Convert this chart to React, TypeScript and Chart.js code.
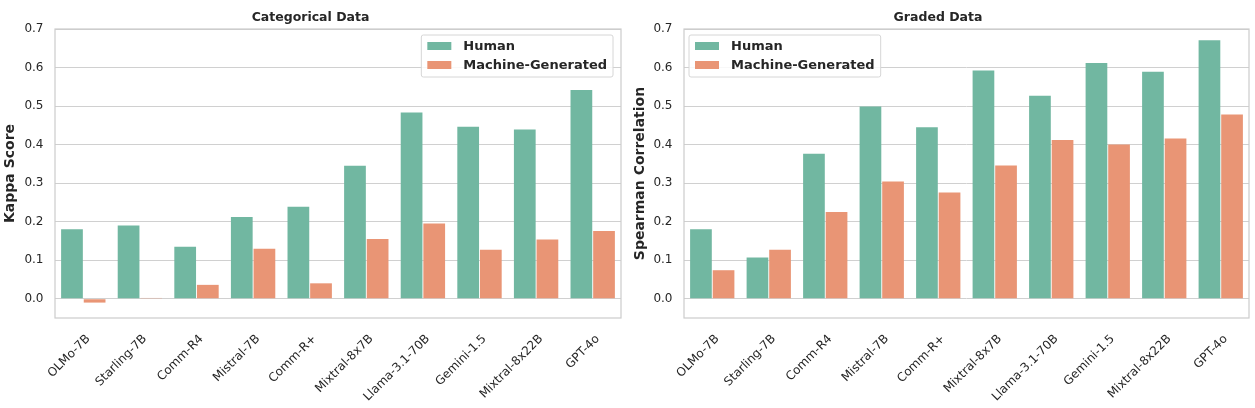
import React, { useEffect, useRef } from "react";
import { Chart, registerables } from "chart.js";

Chart.register(...registerables);

const categories = [
  "OLMo-7B",
  "Starling-7B",
  "Comm-R4",
  "Mistral-7B",
  "Comm-R+",
  "Mixtral-8x7B",
  "Llama-3.1-70B",
  "Gemini-1.5",
  "Mixtral-8x22B",
  "GPT-4o",
];
const seriesNames = ["Human", "Machine-Generated"];
const categoricalHuman = [0.18, 0.19, 0.135, 0.212, 0.239, 0.345, 0.483, 0.446, 0.439, 0.542];
const categoricalMachine = [-0.01, 0.002, 0.036, 0.13, 0.04, 0.155, 0.195, 0.127, 0.154, 0.176];
const gradedHuman = [0.18, 0.107, 0.376, 0.499, 0.445, 0.592, 0.527, 0.612, 0.589, 0.671];
const gradedMachine = [0.074, 0.127, 0.225, 0.304, 0.276, 0.346, 0.412, 0.4, 0.416, 0.478];
const yTicks = [0, 0.1, 0.2, 0.3, 0.4, 0.5, 0.6, 0.7];

const GREEN = "#71b7a1";
const ORANGE = "#e99575";
const TEXT = "#262626";
const GRID = "#d0d0d0";
const FONT = "'DejaVu Sans', sans-serif";

const framePlugin = {
  id: "frameBox",
  afterDatasetsDraw(chart: any) {
    const { ctx, chartArea: a } = chart;
    ctx.save();
    ctx.strokeStyle = "#cccccc";
    ctx.lineWidth = 1.2;
    ctx.strokeRect(a.left, a.top, a.right - a.left, a.bottom - a.top);
    ctx.restore();
  },
};

const legendPlugin = {
  id: "boxLegend",
  afterDraw(chart: any, _args: any, opts: any) {
    const { ctx, chartArea: a } = chart;
    const ds = chart.data.datasets;
    ctx.save();
    ctx.font = `bold 13px ${FONT}`;
    let tw = 0;
    ds.forEach((d: any) => {
      tw = Math.max(tw, ctx.measureText(d.label).width);
    });
    const w = 6 + 24 + 12 + tw + 6;
    const h = 42;
    const top = a.top + 6;
    const left = opts.side === "right" ? a.right - 8 - w : a.left + 5;
    ctx.beginPath();
    if (ctx.roundRect) ctx.roundRect(left, top, w, h, 2);
    else ctx.rect(left, top, w, h);
    ctx.fillStyle = "rgba(255,255,255,0.85)";
    ctx.fill();
    ctx.strokeStyle = "#d6d6d6";
    ctx.lineWidth = 1;
    ctx.stroke();
    ds.forEach((d: any, i: number) => {
      const cy = top + 11 + i * 19;
      ctx.fillStyle = d.backgroundColor;
      ctx.fillRect(left + 6, cy - 4, 24, 8);
      ctx.fillStyle = TEXT;
      ctx.textBaseline = "middle";
      ctx.textAlign = "left";
      ctx.fillText(d.label, left + 42, cy + 0.5);
    });
    ctx.restore();
  },
};

type PanelProps = {
  title: string;
  yTitle: string;
  human: number[];
  machine: number[];
  side: "left" | "right";
  axisWidth: number;
  titlePad: number;
  width: number;
};

function Panel({ title, yTitle, human, machine, side, axisWidth, titlePad, width }: PanelProps) {
  const ref = useRef<HTMLCanvasElement | null>(null);
  useEffect(() => {
    if (!ref.current) return;
    const chart = new Chart(ref.current, {
      type: "bar",
      data: {
        labels: categories,
        datasets: [
          {
            label: seriesNames[0],
            data: human,
            backgroundColor: GREEN,
            barPercentage: 0.96,
            categoryPercentage: 0.8,
          },
          {
            label: seriesNames[1],
            data: machine,
            backgroundColor: ORANGE,
            barPercentage: 0.96,
            categoryPercentage: 0.8,
          },
        ],
      },
      options: {
        animation: false,
        responsive: false,
        layout: { padding: { left: 0, right: 6, top: 0, bottom: 0 } },
        plugins: {
          legend: { display: false },
          tooltip: { enabled: false },
          title: {
            display: true,
            text: title,
            color: TEXT,
            font: { family: FONT, size: 12.5, weight: "bold" },
            padding: { top: 10, bottom: 4 },
          },
          boxLegend: { side: side },
        } as any,
        scales: {
          x: {
            grid: { display: false },
            border: { display: false },
            ticks: {
              color: TEXT,
              font: { family: FONT, size: 12 },
              minRotation: 45,
              maxRotation: 45,
              autoSkip: false,
              padding: 6,
              labelOffset: 5,
            },
            afterFit(scale: any) {
              scale.height = 90;
            },
          },
          y: {
            min: -0.05,
            max: 0.7,
            grid: { color: GRID, lineWidth: 1, drawTicks: false },
            border: { display: false },
            title: {
              display: true,
              text: yTitle,
              color: TEXT,
              font: { family: FONT, size: 14, weight: "bold" },
              padding: { top: titlePad, bottom: 0 },
            },
            ticks: {
              color: TEXT,
              font: { family: FONT, size: 12 },
              padding: 11.5,
              callback: (v: any) => Number(v).toFixed(1),
            },
            afterBuildTicks(scale: any) {
              scale.ticks = yTicks.map((v) => ({ value: v }));
            },
            afterFit(scale: any) {
              scale.width = axisWidth;
            },
          },
        },
      },
      plugins: [framePlugin, legendPlugin],
    });
    return () => chart.destroy();
  }, []);
  return <canvas ref={ref} width={width} height={408} style={{ width, height: 408, display: "block" }} />;
}

export default function App() {
  return (
    <div
      style={{
        position: "fixed",
        left: 0,
        top: 0,
        width: 1255,
        height: 408,
        background: "#ffffff",
        display: "flex",
      }}
    >
      <Panel
        title="Categorical Data"
        yTitle="Kappa Score"
        human={categoricalHuman}
        machine={categoricalMachine}
        side="right"
        axisWidth={55}
        titlePad={2}
        width={627}
      />
      <Panel
        title="Graded Data"
        yTitle="Spearman Correlation"
        human={gradedHuman}
        machine={gradedMachine}
        side="left"
        axisWidth={57}
        titlePad={5}
        width={628}
      />
    </div>
  );
}
